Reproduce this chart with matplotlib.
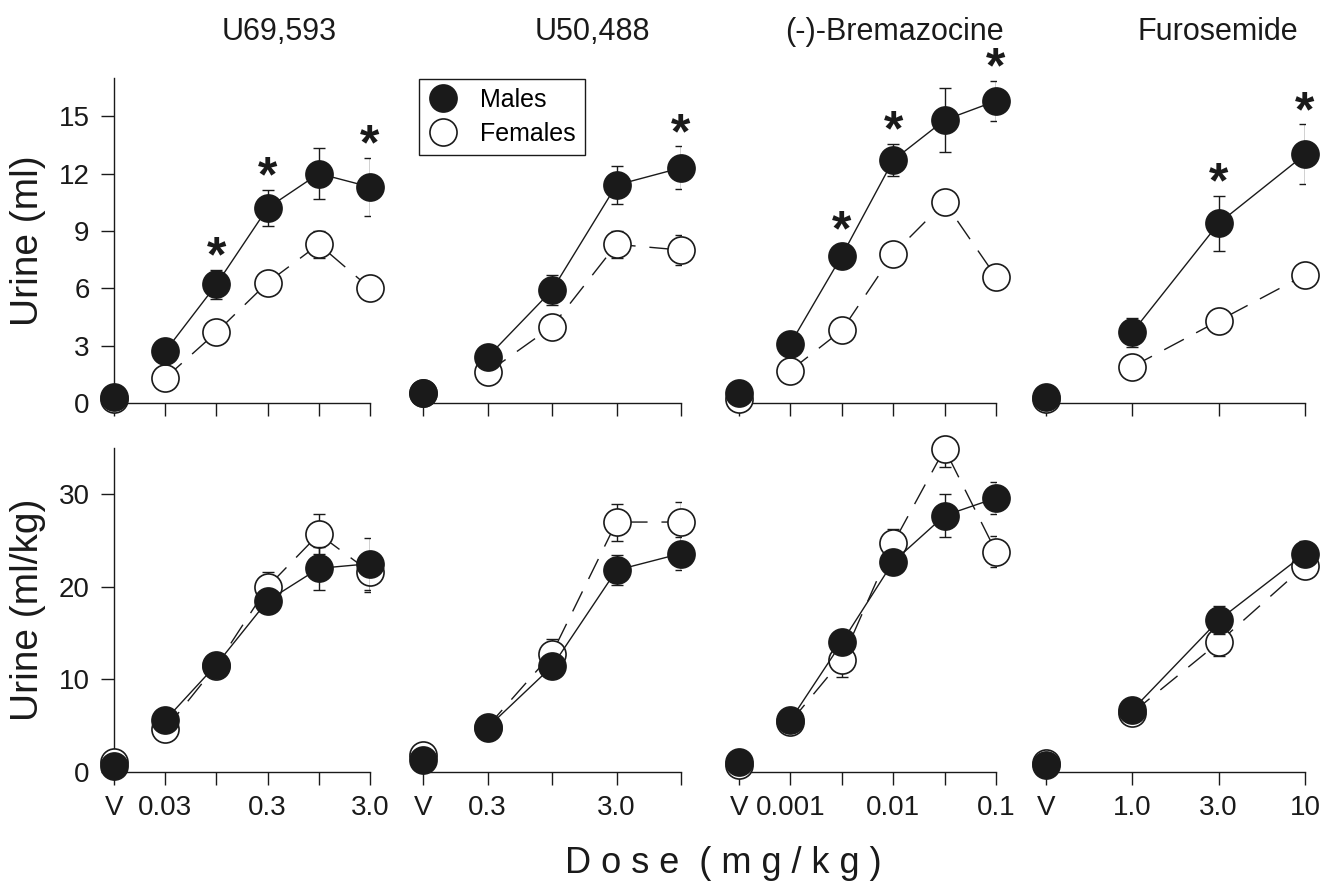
import matplotlib.pyplot as plt
from matplotlib.lines import Line2D

plt.rcParams['font.family'] = ['Liberation Sans', 'DejaVu Sans']

# drugs and dose tick labels (V = vehicle); blank labels are unlabelled ticks
drugs = ["U69,593", "U50,488", "(-)-Bremazocine", "Furosemide"]
u69_doses = ["V", "0.03", "", "0.3", "", "3.0"]
u50_doses = ["V", "0.3", "", "3.0", ""]
brem_doses = ["V", "0.001", "", "0.01", "", "0.1"]
furo_doses = ["V", "1.0", "3.0", "10"]

# urine volume (ml), mean and SEM
u69_ml_m = [0.3, 2.7, 6.2, 10.2, 12.0, 11.3]
u69_ml_m_err = [0.2, 0.4, 0.75, 0.95, 1.35, 1.5]
u69_ml_f = [0.2, 1.3, 3.7, 6.3, 8.3, 6.0]
u69_ml_f_err = [0.1, 0.3, 0.4, 0.4, 0.72, 0.4]
u50_ml_m = [0.5, 2.4, 5.9, 11.4, 12.3]
u50_ml_m_err = [0.2, 0.4, 0.78, 1.0, 1.12]
u50_ml_f = [0.5, 1.6, 4.0, 8.3, 8.0]
u50_ml_f_err = [0.2, 0.3, 0.4, 0.7, 0.78]
brem_ml_m = [0.5, 3.1, 7.7, 12.7, 14.8, 15.8]
brem_ml_m_err = [0.2, 0.4, 0.6, 0.85, 1.66, 1.05]
brem_ml_f = [0.2, 1.7, 3.8, 7.8, 10.5, 6.6]
brem_ml_f_err = [0.1, 0.3, 0.4, 0.5, 0.5, 0.4]
furo_ml_m = [0.3, 3.7, 9.4, 13.0]
furo_ml_m_err = [0.2, 0.75, 1.45, 1.57]
furo_ml_f = [0.2, 1.9, 4.3, 6.7]
furo_ml_f_err = [0.1, 0.3, 0.4, 0.5]

# urine volume per body weight (ml/kg), mean and SEM
u69_kg_m = [0.6, 5.6, 11.6, 18.5, 22.0, 22.5]
u69_kg_m_err = [0.3, 0.8, 0.8, 1.0, 2.3, 2.8]
u69_kg_f = [1.1, 4.6, 11.5, 20.0, 25.7, 21.6]
u69_kg_f_err = [0.3, 0.8, 0.8, 1.6, 2.2, 2.2]
u50_kg_m = [1.3, 4.8, 11.4, 21.8, 23.6]
u50_kg_m_err = [0.3, 0.8, 1.0, 1.6, 1.8]
u50_kg_f = [1.8, 4.9, 12.8, 27.0, 27.0]
u50_kg_f_err = [0.3, 0.8, 1.6, 2.0, 2.2]
brem_kg_m = [1.1, 5.6, 14.0, 22.7, 27.7, 29.6]
brem_kg_m_err = [0.3, 0.8, 1.0, 1.0, 2.3, 1.75]
brem_kg_f = [0.8, 5.4, 12.1, 24.7, 34.9, 23.8]
brem_kg_f_err = [0.3, 0.8, 1.8, 1.6, 2.0, 1.7]
furo_kg_m = [0.8, 6.7, 16.4, 23.6]
furo_kg_m_err = [0.3, 0.8, 1.5, 1.4]
furo_kg_f = [1.0, 6.4, 14.0, 22.3]
furo_kg_f_err = [0.3, 0.8, 1.5, 0.8]

# doses where males differ from females (top row)
u69_sig = [2, 3, 5]
u50_sig = [4]
brem_sig = [2, 3, 5]
furo_sig = [2, 3]

dose_lists = [u69_doses, u50_doses, brem_doses, furo_doses]
rows = [
    dict(m=[u69_ml_m, u50_ml_m, brem_ml_m, furo_ml_m],
         me=[u69_ml_m_err, u50_ml_m_err, brem_ml_m_err, furo_ml_m_err],
         f=[u69_ml_f, u50_ml_f, brem_ml_f, furo_ml_f],
         fe=[u69_ml_f_err, u50_ml_f_err, brem_ml_f_err, furo_ml_f_err],
         sig=[u69_sig, u50_sig, brem_sig, furo_sig],
         ylim=17, yticks=[0, 3, 6, 9, 12, 15], ylabel="Urine (ml)"),
    dict(m=[u69_kg_m, u50_kg_m, brem_kg_m, furo_kg_m],
         me=[u69_kg_m_err, u50_kg_m_err, brem_kg_m_err, furo_kg_m_err],
         f=[u69_kg_f, u50_kg_f, brem_kg_f, furo_kg_f],
         fe=[u69_kg_f_err, u50_kg_f_err, brem_kg_f_err, furo_kg_f_err],
         sig=[[], [], [], []],
         ylim=35, yticks=[0, 10, 20, 30], ylabel="Urine (ml/kg)"),
]

W, H = 1327, 882
INK = '#1a1a1a'
col_px = [(114, 370), (423, 681), (739, 996), (1046, 1305)]
row_px = [(78, 403), (448, 772)]
title_x = [279, 592, 894, 1218]

fig = plt.figure(figsize=(W / 100, H / 100), dpi=100)


def draw_series(ax, y, err, filled, z):
    x = list(range(len(y)))
    ax.errorbar(x, y, yerr=err, fmt='none', ecolor=INK, elinewidth=1.0,
                capsize=4.3, capthick=1.0, zorder=z)
    # vehicle point stands alone; the dose-response line starts at the first dose
    ax.plot(x[1:], y[1:], color=INK, lw=1.0,
            linestyle='-' if filled else (0, (16, 10)), zorder=z)
    ax.plot(x, y, ls='none', marker='o', ms=19.5, mew=1.2, mec=INK,
            mfc=INK if filled else 'white', clip_on=False, zorder=z + 1)


for r, row in enumerate(rows):
    yt, yb = row_px[r]
    for c in range(4):
        x0, x1 = col_px[c]
        ax = fig.add_axes([x0 / W, 1 - yb / H, (x1 - x0) / W, (yb - yt) / H])
        ax.patch.set_visible(False)
        labels = dose_lists[c]
        n = len(labels)
        ax.set_xlim(0, n - 1)
        ax.set_ylim(0, row['ylim'])

        draw_series(ax, row['f'][c], row['fe'][c], False, 2)
        draw_series(ax, row['m'][c], row['me'][c], True, 4)

        for i in row['sig'][c]:
            ax.annotate('*', (i, row['m'][c][i] + row['me'][c][i]),
                        xytext=(0, -1), textcoords='offset points',
                        ha='center', va='baseline', fontsize=36,
                        fontweight='bold', color=INK, annotation_clip=False)

        for s in ['top', 'right']:
            ax.spines[s].set_visible(False)
        ax.spines['bottom'].set_bounds(0, n - 1)
        ax.spines['bottom'].set_linewidth(1.0)
        ax.spines['bottom'].set_color(INK)
        ax.set_xticks(range(n))
        if r == 1:
            ax.set_xticklabels(labels)
        else:
            ax.set_xticklabels([])
        ax.tick_params(axis='x', direction='out', length=9.5, width=1.0,
                       color=INK, labelsize=20, labelcolor=INK, pad=7)
        if c == 0:
            ax.spines['left'].set_linewidth(1.0)
            ax.spines['left'].set_color(INK)
            ax.set_yticks(row['yticks'])
            ax.tick_params(axis='y', direction='out', length=9.5, width=1.0,
                           color=INK, labelsize=20, labelcolor=INK, pad=8)
        else:
            ax.spines['left'].set_visible(False)
            ax.set_yticks([])

    fig.text(28 / W, 1 - (yt + yb) / 2 / H, row['ylabel'], rotation=90,
             ha='center', va='center', fontsize=28, color=INK)

for c, name in enumerate(drugs):
    fig.text(title_x[c] / W, 1 - 32 / H, name, ha='center', va='center',
             fontsize=22, color=INK)

fig.text(723 / W, 9 / H, "D o s e  ( m g / k g )", ha='center',
         va='baseline', fontsize=26, color=INK)

handles = [
    Line2D([], [], ls='none', marker='o', ms=19.5, mfc=INK, mec=INK, mew=1.2),
    Line2D([], [], ls='none', marker='o', ms=19.5, mfc='white', mec=INK, mew=1.2),
]
leg = fig.legend(handles, ['Males', 'Females'], loc='upper left',
                 bbox_to_anchor=(419 / W, 1 - 79 / H), frameon=True,
                 fancybox=False, edgecolor=INK, framealpha=1, fontsize=18,
                 borderpad=0.35, handletextpad=0.9, labelspacing=0.4,
                 handlelength=1.2, borderaxespad=0)
leg.get_frame().set_linewidth(1.0)

fig.savefig('out.png', dpi=100)
